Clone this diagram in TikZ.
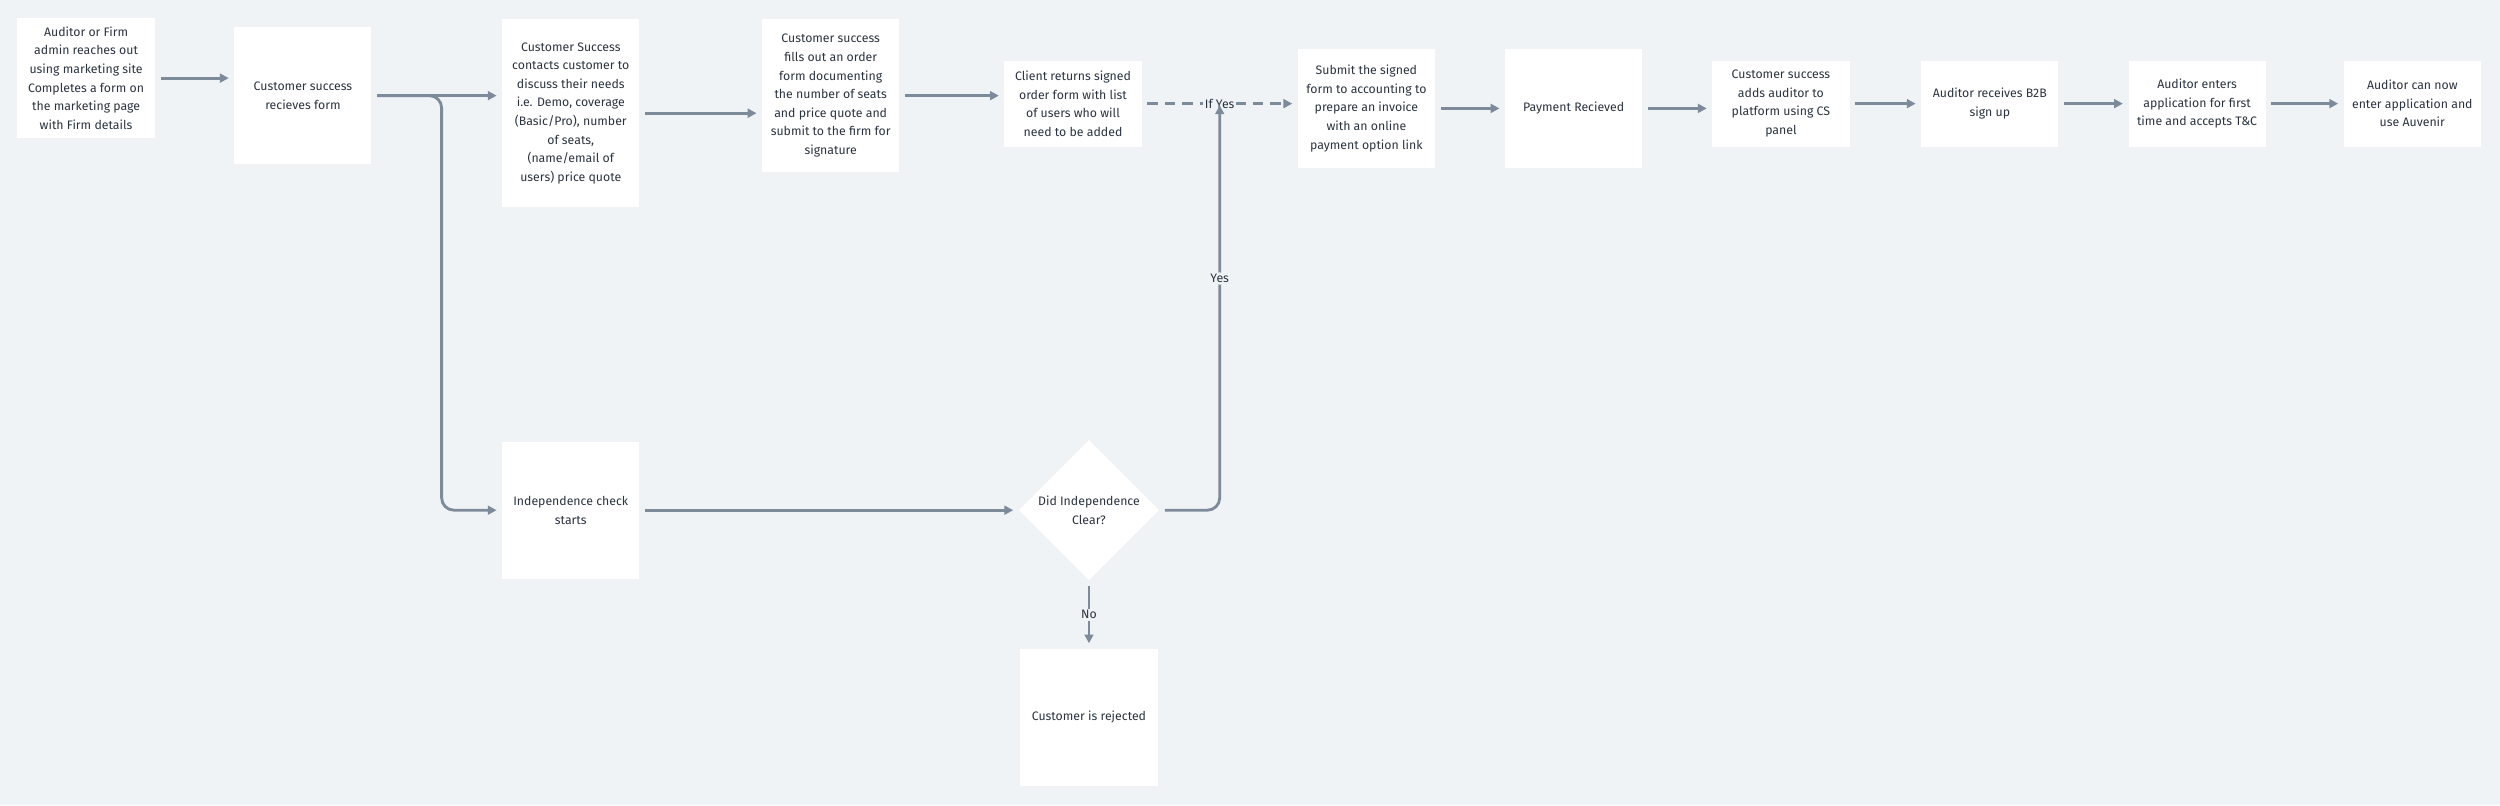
\documentclass[tikz,border=0pt]{standalone}
\usepackage{fontspec}
\setmainfont{Fira Sans}
\usetikzlibrary{arrows.meta,shapes.geometric}
\definecolor{bg}{HTML}{F0F3F6}
\definecolor{ln}{HTML}{7D8A99}
\definecolor{tx}{HTML}{2B3440}
\begin{document}
\begin{tikzpicture}[x=0.03189cm,y=-0.03189cm,
  box/.style={fill=white,draw=none,align=center,inner sep=0pt,text=tx,font=\fontsize{7}{10.6}\selectfont},
  arr/.style={draw=ln,line width=1.6pt,-{Triangle[length=5pt,width=5pt]},shorten >=3pt,shorten <=3pt},
  lbl/.style={fill=bg,text=tx,font=\fontsize{7}{9}\selectfont,inner sep=1pt}]
\fill[bg] (0,0) rectangle (1568,505);
\useasboundingbox (0,0) rectangle (1568,505);
\newcommand{\bx}[6]{\node[box,minimum width=#3*0.03189cm,minimum height=#4*0.03189cm] (#5) at (#1,#2) {#6};}
\bx{54}{49}{87}{75}{b1}{Auditor or Firm\\admin reaches out\\using marketing site\\Completes a form on\\the marketing page\\with Firm details}
\bx{190}{60}{86}{86}{b2}{Customer success\\recieves form}
\bx{358}{71}{86}{118}{b3}{Customer Success\\contacts customer to\\discuss their needs\\i.e. Demo, coverage\\(Basic/Pro), number\\of seats,\\(name/email of\\users) price quote}
\bx{521}{60}{86}{96}{b4}{Customer success\\fills out an order\\form documenting\\the number of seats\\and price quote and\\submit to the firm for\\signature}
\bx{673}{65}{86}{54}{b5}{Client returns signed\\order form with list\\of users who will\\need to be added}
\bx{857}{68}{86}{75}{b6}{Submit the signed\\form to accounting to\\prepare an invoice\\with an online\\payment option link}
\bx{987}{68}{86}{75}{b7}{Payment Recieved}
\bx{1117}{65}{86}{54}{b8}{Customer success\\adds auditor to\\platform using CS\\panel}
\bx{1248}{65}{86}{54}{b9}{Auditor receives B2B\\sign up}
\bx{1378}{65}{86}{54}{b10}{Auditor enters\\application for first\\time and accepts T\&C}
\bx{1513}{65}{86}{54}{b11}{Auditor can now\\enter application and\\use Auvenir}
\bx{358}{320}{86}{86}{ind}{Independence check\\starts}
\node[box,diamond,minimum width=88*0.03189cm,minimum height=88*0.03189cm] (dia) at (683,320) {};
\node[box] at (683,320) {Did Independence\\Clear?};
\bx{683}{450}{86}{86}{rej}{Customer is rejected}
\coordinate (br) at (277,320);
\coordinate (yc) at (765,320);
\coordinate (yt) at (765,65);
\draw[arr] (b1.east) -- (b1.east-|b2.west);
\draw[arr] (b2.east) -- (b2.east-|b3.west);
\draw[arr,rounded corners=7pt] (b2.east) -| (br) -- (ind.west);
\draw[arr] (b3.east) -- (b3.east-|b4.west);
\draw[arr] (b4.east) -- (b4.east-|b5.west);
\draw[arr,dash pattern=on 6pt off 4pt] (b5.east) -- (b5.east-|b6.west) node[lbl,pos=0.5]{If Yes};
\draw[arr] (b6.east) -- (b6.east-|b7.west);
\draw[arr] (b7.east) -- (b7.east-|b8.west);
\draw[arr] (b8.east) -- (b8.east-|b9.west);
\draw[arr] (b9.east) -- (b9.east-|b10.west);
\draw[arr] (b10.east) -- (b10.east-|b11.west);
\draw[arr] (ind.east) -- (ind.east-|dia.west);
\draw[arr,shorten >=1pt,rounded corners=7pt] (dia.east) -- (yc) -- (yt) node[lbl,pos=0.57]{Yes};
\draw[arr] (dia.south) -- (rej.north) node[lbl,midway]{No};
\end{tikzpicture}
\end{document}
